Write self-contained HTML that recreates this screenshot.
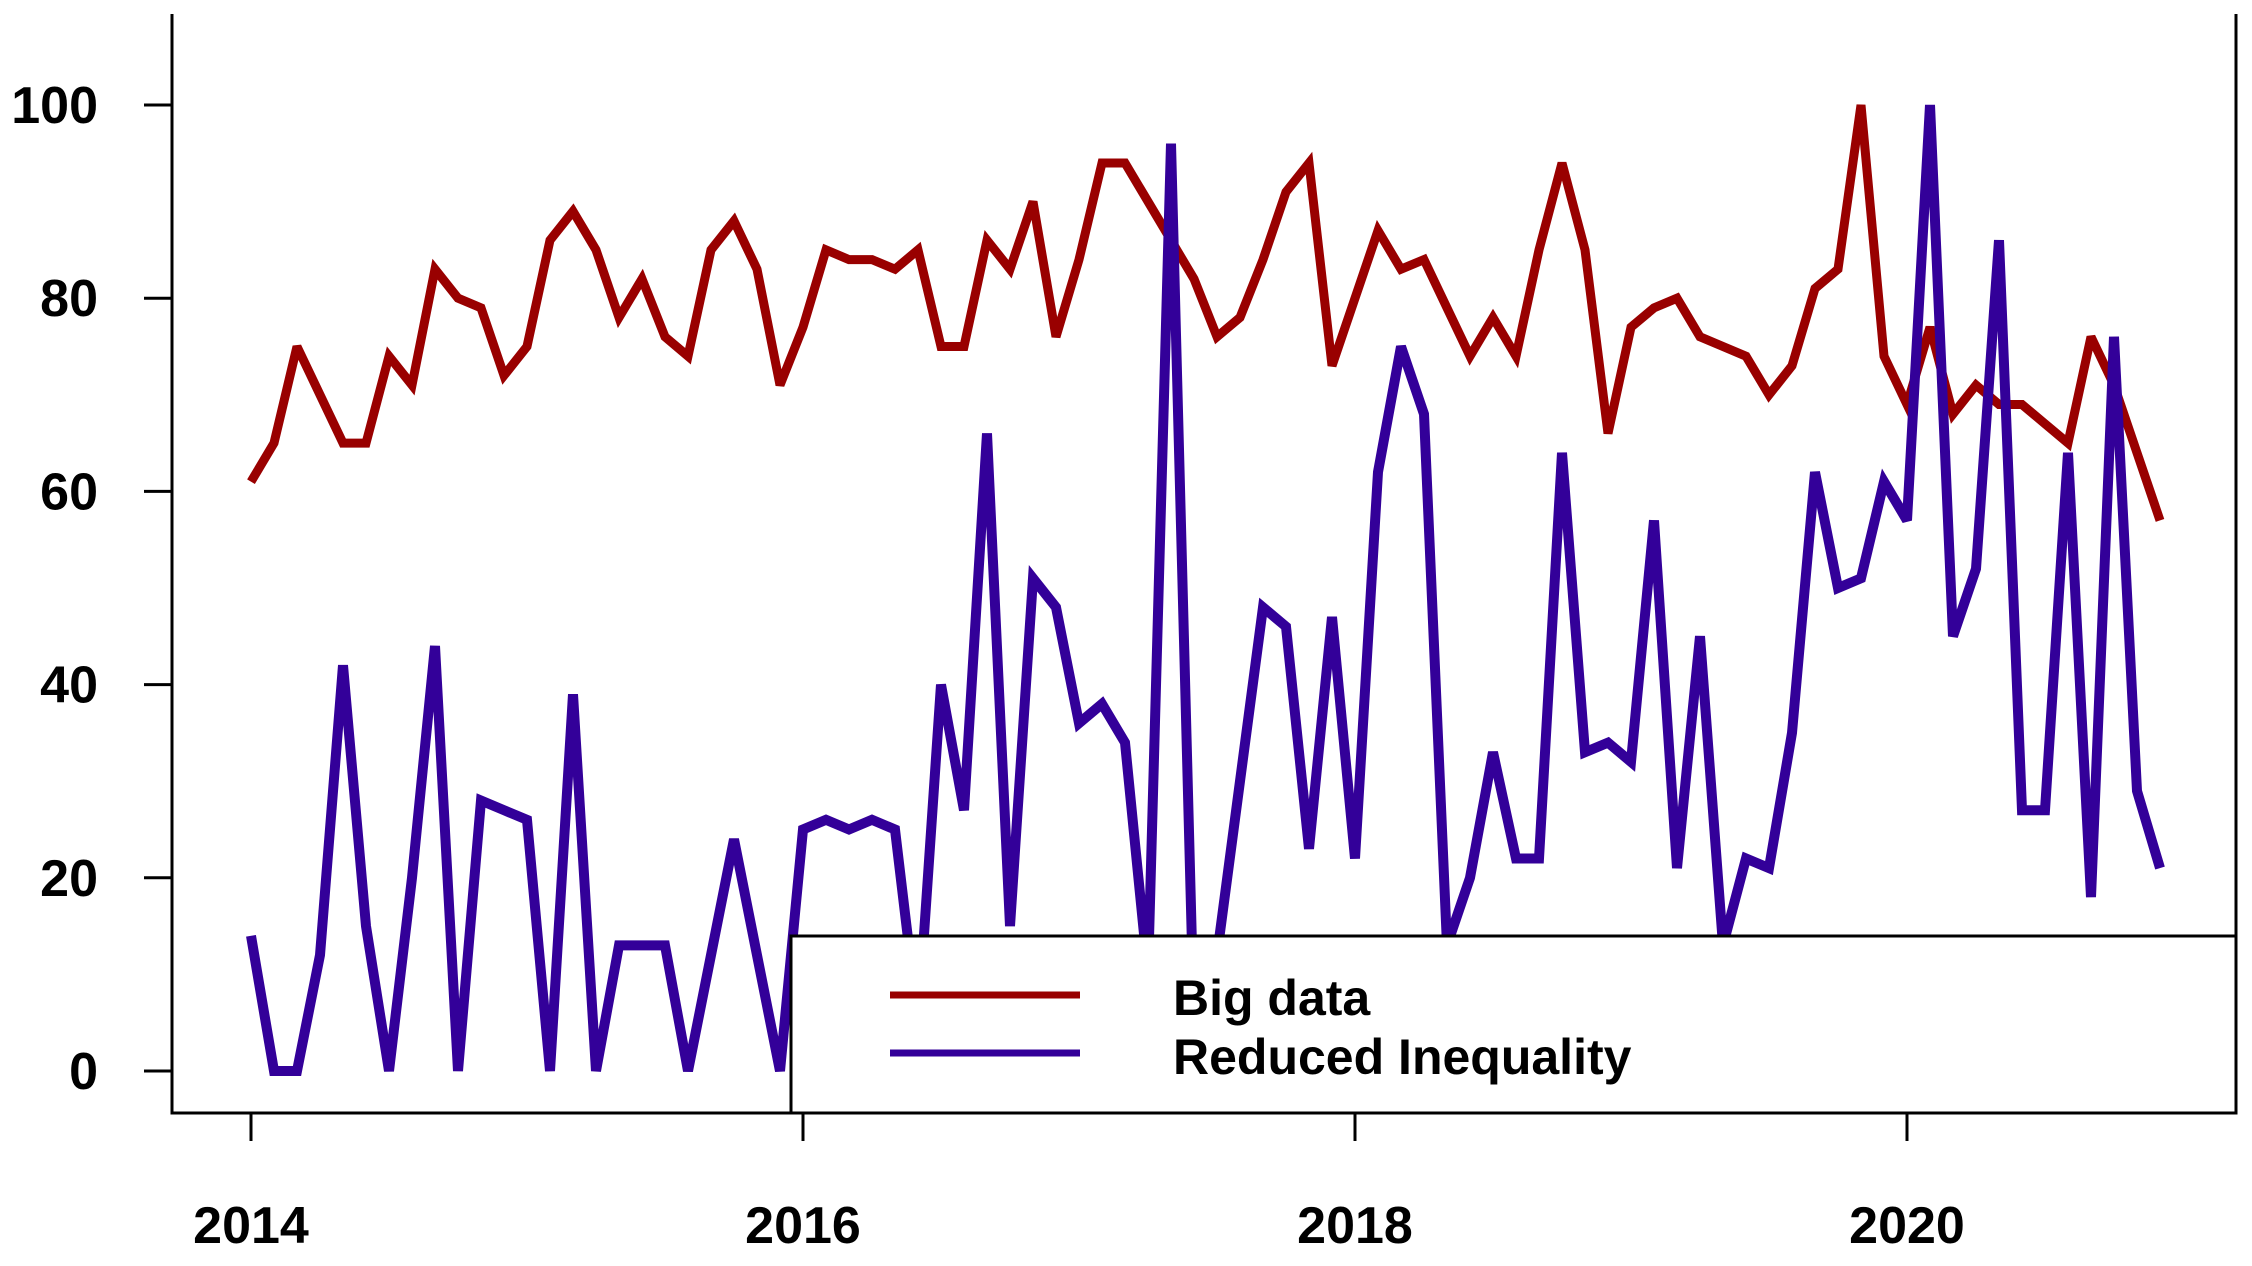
<!DOCTYPE html>
<html><head><meta charset="utf-8"><style>
html,body{margin:0;padding:0;background:#fff;}
svg{display:block;}
text{font-family:"Liberation Sans",Arial,sans-serif;font-weight:bold;fill:#000;}
</style></head><body>
<svg id="chart" width="2252" height="1266" viewBox="0 0 2252 1266" xmlns="http://www.w3.org/2000/svg"></svg>
<script>
const bigData = [61,65,75,70,65,65,74,71,83,80,79,72,
75,86,89,85,78,82,76,74,85,88,83,71,
77,85,84,84,83,85,75,75,86,83,90,76,
84,94,94,90,86,82,76,78,84,91,94,73,
80,87,83,84,79,74,78,74,85,94,85,66,
77,79,80,76,75,74,70,73,81,83,100,74,
69,77,68,71,69,69,67,65,76,71,64,57];
const reducedIneq = [14,0,0,12,42,15,0,20,44,0,28,27,
26,0,39,0,13,13,13,0,12,24,12,0,
25,26,25,26,25,5,40,27,66,15,51,48,
36,38,34,10,96,5,12,30,48,46,23,47,
22,62,75,68,13,20,33,22,22,64,33,34,
32,57,21,45,13,22,21,35,62,50,51,61,
57,100,45,52,86,27,27,64,18,76,29,21];
const yTicks = [0,20,40,60,80,100];
const xTickLabels = ["2014","2016","2018","2020"];
const xTickMonths = [0,24,48,72];

const NS="http://www.w3.org/2000/svg";
const svg=document.getElementById('chart');
const X0=251, DX=23.0, Y0=1071, PY=9.66;
const xs=m=>X0+m*DX;
const ys=v=>Y0-v*PY;
function mk(tag,attrs,parent){const e=document.createElementNS(NS,tag);for(const k in attrs)e.setAttribute(k,attrs[k]);(parent||svg).appendChild(e);return e;}

const ax=mk('path',{d:'M172,14 L172,1113 L2236,1113 L2236,14',fill:'none',stroke:'#000','stroke-width':3});


yTicks.forEach(v=>{
  const t=mk('line',{x1:144,x2:172,y1:ys(v),y2:ys(v),stroke:'#000','stroke-width':3});
  
  
  const l=mk('text',{x:98,y:ys(v)+18,'text-anchor':'end','font-size':52});
  l.textContent=v;
  
  
});
xTickMonths.forEach((m,i)=>{
  const t=mk('line',{x1:xs(m),x2:xs(m),y1:1113,y2:1141,stroke:'#000','stroke-width':3});
  
  
  const l=mk('text',{x:xs(m),y:1243,'text-anchor':'middle','font-size':52});
  l.textContent=xTickLabels[i];
  
  
});
function series(arr,color,w,name){
  const d=arr.map((v,i)=>(i?'L':'M')+xs(i).toFixed(1)+','+ys(v).toFixed(1)).join(' ');
  const p=mk('path',{d:d,fill:'none',stroke:color,'stroke-width':w,'stroke-linejoin':'miter','stroke-miterlimit':3});
  
  
}
series(bigData,'#990000',9,'big-data-line');
series(reducedIneq,'#330099',10,'reduced-inequality-line');

const lg=mk('g',{});


mk('rect',{x:791,y:936,width:1445,height:177,fill:'#fff',stroke:'#000','stroke-width':3},lg);
const l1=mk('line',{x1:890,x2:1080,y1:995,y2:995,stroke:'#990000','stroke-width':7},lg);


const l2=mk('line',{x1:890,x2:1080,y1:1053,y2:1053,stroke:'#330099','stroke-width':7},lg);


const t1=mk('text',{x:1173,y:1015,'font-size':50},lg);
t1.textContent='Big data';


const t2=mk('text',{x:1173,y:1074,'font-size':50},lg);
t2.textContent='Reduced Inequality';


</script>
</body></html>
